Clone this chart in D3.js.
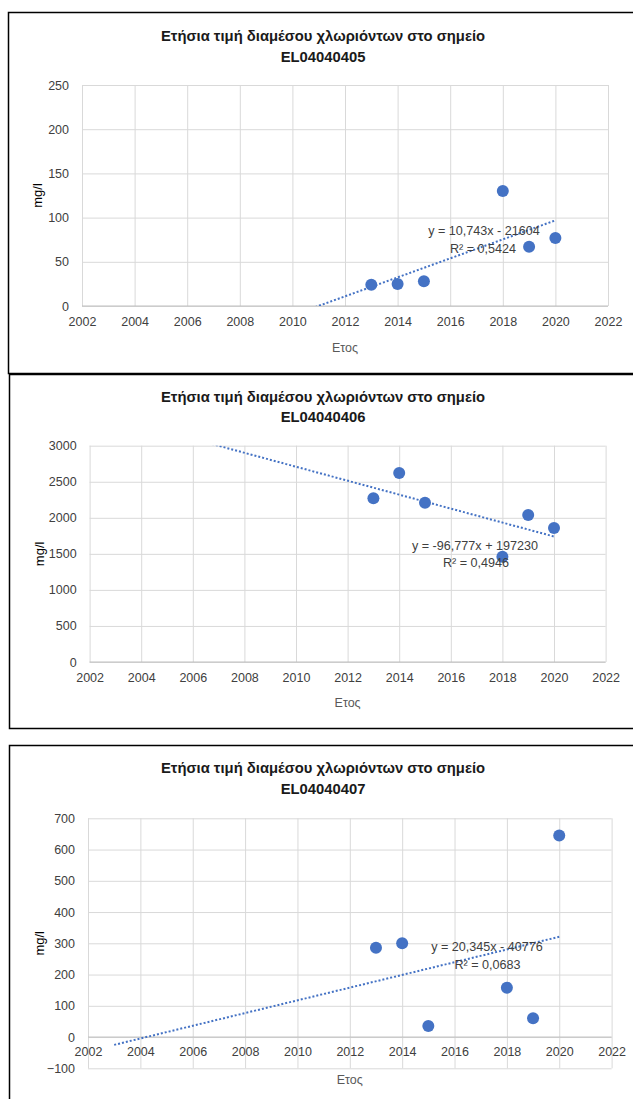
<!DOCTYPE html>
<html>
<head>
<meta charset="utf-8">
<script src="https://cdn.jsdelivr.net/npm/d3@7"></script>
<style>
  body { margin: 0; background: #fff; }
  text { font-family: "Liberation Sans", Arial, sans-serif; }
</style>
</head>
<body>
<script>
// data
const years = [2013, 2014, 2015, 2018, 2019, 2020];
const chloride405 = [24, 25, 28, 130, 67, 77];
const chloride406 = [2270, 2620, 2210, 1460, 2040, 1860];
const chloride407 = [286, 300, 35, 158, 60, 645];

const stations = ["EL04040405", "EL04040406", "EL04040407"];
const titleText = "Ετήσια τιμή διαμέσου χλωριόντων στο σημείο";
const xTitle = "Ετος";
const yTitle = "mg/l";

const xTicks = [2002, 2004, 2006, 2008, 2010, 2012, 2014, 2016, 2018, 2020, 2022];
const yTicks405 = [0, 50, 100, 150, 200, 250];
const yTicks406 = [0, 500, 1000, 1500, 2000, 2500, 3000];
const yTicks407 = [-100, 0, 100, 200, 300, 400, 500, 600, 700];

// linear trendlines as printed on the charts (forecast backward from 2003)
const trendSlopes = [10.743, -96.777, 20.345];
const trendIntercepts = [-21604, 197230, -40776];
const trendStart = [2003, 2003, 2003];
const trendEnd = [2020, 2020, 2020];
const trendLabels = ["y = 10,743x - 21604", "y = -96,777x + 197230", "y = 20,345x - 40776"];
const r2Labels = ["R² = 0,5424", "R² = 0,4946", "R² = 0,0683"];

const series = [chloride405, chloride406, chloride407];
const yTickSets = [yTicks405, yTicks406, yTicks407];

// layout of each panel
const panels = [
  { boxTop: 12.5, boxBottom: 373.5, boxLeft: 8.5, left: 82, right: 608, top: 85, bottom: 306,
    titleY: [36, 57], xLabelGap: 20, xTitleY: 348, yTitleX: 37, eq: [484, 231], r2: [483, 249] },
  { boxTop: 374.5, boxBottom: 728.5, boxLeft: 9.5, left: 89.6, right: 605.6, top: 445.7, bottom: 662,
    titleY: [396.7, 416.7], xLabelGap: 20, xTitleY: 703, yTitleX: 39, eq: [475, 546], r2: [476, 563] },
  { boxTop: 745.5, boxBottom: 1200, boxLeft: 9.5, left: 88, right: 611.6, top: 818.3, bottom: 1068.3,
    titleY: [768.3, 789.3], xLabelGap: 19, xTitleY: 1080, yTitleX: 39, eq: [487, 947], r2: [487.5, 965] }
];

const svg = d3.select("body").append("svg")
  .attr("width", 633)
  .attr("height", 1099);

const blue = "#4472C4";
const labelFont = "'Liberation Sans', Arial, sans-serif";

panels.forEach(function (p, i) {
  const g = svg.append("g");
  const ticksY = yTickSets[i];

  const x = d3.scaleLinear().domain([2002, 2022]).range([p.left, p.right]);
  const y = d3.scaleLinear().domain(d3.extent(ticksY)).range([p.bottom, p.top]);

  // chart frame
  g.append("rect")
    .attr("x", p.boxLeft)
    .attr("y", p.boxTop)
    .attr("width", 700)
    .attr("height", p.boxBottom - p.boxTop)
    .attr("fill", "none")
    .attr("stroke", "#000")
    .attr("stroke-width", 1.5);

  // gridlines
  g.append("g")
    .attr("transform", "translate(0," + p.bottom + ")")
    .call(d3.axisBottom(x).tickValues(xTicks).tickSize(-(p.bottom - p.top)).tickFormat(""))
    .call(function (a) {
      a.select(".domain").remove();
      a.selectAll("line").attr("stroke", "#d9d9d9");
    });
  g.append("g")
    .attr("transform", "translate(" + p.left + ",0)")
    .call(d3.axisLeft(y).tickValues(ticksY).tickSize(-(p.right - p.left)).tickFormat(""))
    .call(function (a) {
      a.select(".domain").remove();
      a.selectAll("line").attr("stroke", "#d9d9d9");
    });

  // zero axis line
  g.append("line")
    .attr("x1", p.left).attr("x2", p.right)
    .attr("y1", y(0)).attr("y2", y(0))
    .attr("stroke", "#bfbfbf")
    .attr("stroke-width", 1);

  // tick labels
  g.append("g")
    .attr("transform", "translate(" + p.left + ",0)")
    .call(d3.axisLeft(y).tickValues(ticksY).tickSize(0).tickPadding(13).tickFormat(d3.format("d")))
    .call(function (a) {
      a.select(".domain").remove();
      a.selectAll("text").attr("font-size", 12.5).attr("fill", "#404040")
        .style("font-family", labelFont);
    });
  g.append("g")
    .attr("transform", "translate(0," + y(0) + ")")
    .call(d3.axisBottom(x).tickValues(xTicks).tickSize(0).tickPadding(p.xLabelGap - 9).tickFormat(d3.format("d")))
    .call(function (a) {
      a.select(".domain").remove();
      a.selectAll("text").attr("font-size", 12.5).attr("fill", "#404040")
        .style("font-family", labelFont);
    });

  // title
  const mid = 323;
  g.append("text")
    .attr("x", mid).attr("y", p.titleY[0])
    .attr("dy", "0.35em")
    .attr("text-anchor", "middle")
    .attr("font-size", 14.8).attr("font-weight", "bold").attr("fill", "#1a1a1a")
    .text(titleText);
  g.append("text")
    .attr("x", mid).attr("y", p.titleY[1])
    .attr("dy", "0.35em")
    .attr("text-anchor", "middle")
    .attr("font-size", 14.8).attr("font-weight", "bold").attr("fill", "#1a1a1a")
    .text(stations[i]);

  // axis titles
  g.append("text")
    .attr("x", (p.left + p.right) / 2).attr("y", p.xTitleY)
    .attr("dy", "0.35em")
    .attr("text-anchor", "middle")
    .attr("font-size", 12.5).attr("fill", "#595959")
    .text(xTitle);
  g.append("text")
    .attr("transform", "translate(" + p.yTitleX + "," + (p.top + p.bottom) / 2 + ") rotate(-90)")
    .attr("dy", "0.35em")
    .attr("text-anchor", "middle")
    .attr("font-size", 13).attr("fill", "#000")
    .text(yTitle);

  // trendline, clipped to plot area
  const clipId = "clip" + i;
  g.append("clipPath").attr("id", clipId)
    .append("rect")
    .attr("x", p.left).attr("y", p.top)
    .attr("width", p.right - p.left).attr("height", p.bottom - p.top);

  const trend = [trendStart[i], trendEnd[i]].map(function (yr) {
    return [yr, trendSlopes[i] * yr + trendIntercepts[i]];
  });
  g.append("path")
    .datum(trend)
    .attr("clip-path", "url(#" + clipId + ")")
    .attr("d", d3.line().x(function (d) { return x(d[0]); }).y(function (d) { return y(d[1]); }))
    .attr("fill", "none")
    .attr("stroke", blue)
    .attr("stroke-width", 2)
    .attr("stroke-dasharray", "2,2");

  // points
  g.selectAll(".dot")
    .data(years.map(function (yr, k) { return [yr, series[i][k]]; }))
    .enter()
    .append("circle")
    .attr("cx", function (d) { return x(d[0]); })
    .attr("cy", function (d) { return y(d[1]); })
    .attr("r", 6)
    .attr("fill", blue);

  // trend equation
  g.append("text")
    .attr("x", p.eq[0]).attr("y", p.eq[1])
    .attr("dy", "0.35em")
    .attr("text-anchor", "middle")
    .attr("font-size", 12.6).attr("fill", "#404040")
    .text(trendLabels[i]);
  g.append("text")
    .attr("x", p.r2[0]).attr("y", p.r2[1])
    .attr("dy", "0.35em")
    .attr("text-anchor", "middle")
    .attr("font-size", 12.6).attr("fill", "#404040")
    .text(r2Labels[i]);
});
</script>
</body>
</html>
